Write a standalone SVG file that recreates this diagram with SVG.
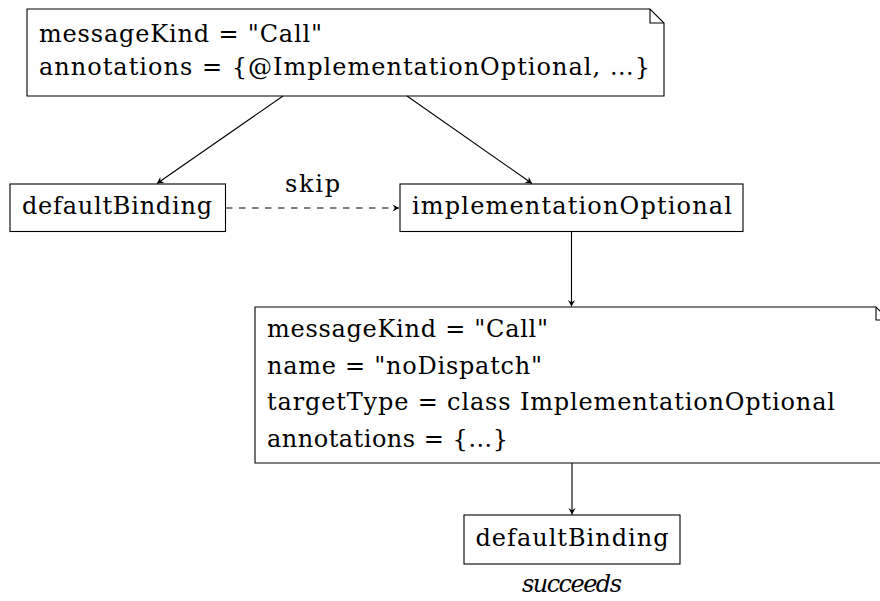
<svg xmlns="http://www.w3.org/2000/svg" width="880" height="601" viewBox="0 0 880 601">
  <defs>
    <style>
      .box { fill: #ffffff; stroke: #000000; stroke-width: 1.1; }
      .fold { fill: none; stroke: #000000; stroke-width: 1.1; stroke-linejoin: miter; }
      .lbl { font-family: "DejaVu Serif", "Liberation Serif", serif; font-size: 24px; fill: #000000; }
      .it { font-style: italic; }
      .edge { fill: none; stroke: #000000; stroke-width: 1.1; }
      .dash { stroke-dasharray: 6.5 6.5; }
    </style>
    <marker id="tip" viewBox="-8 -5 10 10" markerWidth="10" markerHeight="10" refX="0" refY="0" orient="auto" markerUnits="userSpaceOnUse">
      <path d="M0,0 L-6.5,-3.6 L-4.2,0 L-6.5,3.6 Z" fill="#000000"/>
    </marker>
  </defs>

  <rect width="880" height="601" fill="#ffffff"/>

  <!-- note: first message -->
  <g id="note-call">
    <path class="box" d="M27,9 H650 L664,23 V96 H27 Z"/>
    <path class="fold" d="M650,9 V23 H664"/>
    <text class="lbl" x="39" y="42" textLength="283">messageKind = "Call"</text>
    <text class="lbl" x="39" y="75" textLength="611">annotations = {@ImplementationOptional, …}</text>
  </g>

  <!-- binding that gets skipped -->
  <g id="default-binding-1">
    <rect class="box" x="10" y="184" width="215.5" height="47.5"/>
    <text class="lbl" x="22" y="214" textLength="190">defaultBinding</text>
  </g>

  <g id="implementation-optional">
    <rect class="box" x="400" y="184" width="343" height="47.5"/>
    <text class="lbl" x="412" y="214" textLength="320">implementationOptional</text>
  </g>

  <!-- note: dispatched message -->
  <g id="note-dispatch">
    <path class="box" d="M255,307 H876 L889,320 V463 H255 Z"/>
    <path class="fold" d="M876,307 V320 H889"/>
    <text class="lbl" x="267" y="337" textLength="281">messageKind = "Call"</text>
    <text class="lbl" x="267" y="374" textLength="275">name = "noDispatch"</text>
    <text class="lbl" x="267" y="410" textLength="568">targetType = class ImplementationOptional</text>
    <text class="lbl" x="267" y="447" textLength="241">annotations = {…}</text>
  </g>

  <g id="default-binding-2">
    <rect class="box" x="464" y="515" width="216" height="49"/>
    <text class="lbl" x="572" y="546" text-anchor="middle" textLength="193">defaultBinding</text>
    <text class="lbl it" x="572" y="592" text-anchor="middle" textLength="100">succeeds</text>
  </g>

  <!-- connectors -->
  <g id="connectors">
    <line class="edge" x1="283" y1="96" x2="157" y2="183.5" marker-end="url(#tip)"/>
    <line class="edge" x1="407" y1="96" x2="532" y2="183.5" marker-end="url(#tip)"/>
    <line class="edge dash" x1="226" y1="208" x2="399" y2="208" marker-end="url(#tip)"/>
    <text class="lbl" x="285" y="192" textLength="55">skip</text>
    <line class="edge" x1="571.5" y1="232" x2="571.5" y2="306.5" marker-end="url(#tip)"/>
    <line class="edge" x1="572" y1="463" x2="572" y2="514.5" marker-end="url(#tip)"/>
  </g>
</svg>
